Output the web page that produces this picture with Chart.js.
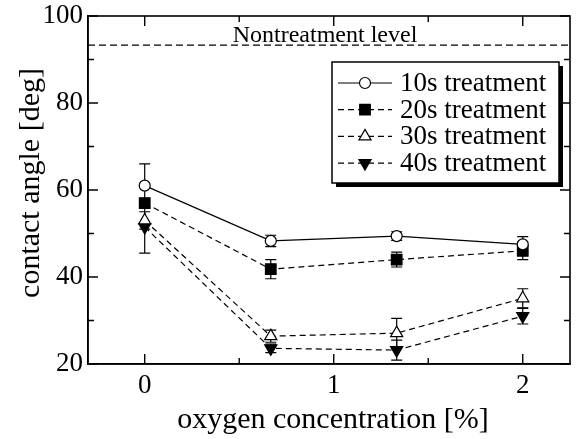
<!DOCTYPE html>
<html><head><meta charset="utf-8">
<script src="https://cdn.jsdelivr.net/npm/chart.js@4/dist/chart.umd.min.js"></script>
<style>html,body{margin:0;padding:0;background:#fff;}canvas{display:block;}</style>
</head><body>
<canvas id="c" width="581" height="439"></canvas>
<script>
// ---- data ----
const oxygen = [0, 0.667, 1.333, 2];
const t10 = [61.0, 48.3, 49.4, 47.5];
const t10Err = [5.0, 1.3, 1.0, 1.8];
const t20 = [57.0, 41.8, 44.0, 46.0];
const t20Err = [1.0, 2.2, 1.7, 2.0];
const t30 = [53.0, 26.4, 27.1, 35.1];
const t30Err = [2.0, 1.4, 3.4, 2.2];
const t40 = [51.5, 23.6, 23.2, 31.0];
const t40Err = [6.0, 1.0, 2.3, 1.8];
const seriesLabels = ['10s treatment', '20s treatment', '30s treatment', '40s treatment'];
const xTicks = [0, 1, 2];
const xMinorTicks = [0.5, 1.5];
const yTicks = [20, 40, 60, 80, 100];
const yMinorTicks = [30, 50, 70, 90];
const nontreatmentLevel = 93.3;
const nontreatmentLabel = 'Nontreatment level';
const xTitle = 'oxygen concentration [%]';
const yTitle = 'contact angle [deg]';

const FONT = "'Liberation Serif', 'Times New Roman', serif";
const allY = [t10, t20, t30, t40];
const allErr = [t10Err, t20Err, t30Err, t40Err];
const styles = [
  {pointStyle: 'circle', fill: '#fff', radius: 5.5, rot: 0, dash: []},
  {pointStyle: 'rect', fill: '#000', radius: 7.5, rot: 0, dash: [6, 4]},
  {pointStyle: 'triangle', fill: '#fff', radius: 7, rot: 0, dash: [6, 4]},
  {pointStyle: 'triangle', fill: '#000', radius: 7, rot: 180, dash: [6, 4]}
];

const datasets = allY.map((ys, i) => ({
  label: seriesLabels[i],
  data: oxygen.map((x, j) => ({x: x, y: ys[j]})),
  borderColor: '#000',
  borderWidth: 1.2,
  borderDash: styles[i].dash,
  pointStyle: styles[i].pointStyle,
  pointRadius: styles[i].radius,
  pointRotation: styles[i].rot,
  pointBackgroundColor: styles[i].fill,
  pointBorderColor: '#000',
  pointBorderWidth: 1.2,
  fill: false,
  tension: 0
}));

function drawMarker(ctx, style, x, y, r, rotDeg, fill) {
  ctx.save();
  ctx.beginPath();
  const rad = rotDeg * Math.PI / 180;
  if (style === 'circle') {
    ctx.arc(x, y, r, 0, Math.PI * 2);
  } else if (style === 'rect') {
    const s = Math.SQRT1_2 * r;
    ctx.rect(x - s, y - s, 2 * s, 2 * s);
  } else if (style === 'triangle') {
    let a = rad;
    ctx.moveTo(x + Math.sin(a) * r, y - Math.cos(a) * r);
    a += 2 * Math.PI / 3;
    ctx.lineTo(x + Math.sin(a) * r, y - Math.cos(a) * r);
    a += 2 * Math.PI / 3;
    ctx.lineTo(x + Math.sin(a) * r, y - Math.cos(a) * r);
    ctx.closePath();
  }
  ctx.fillStyle = fill;
  ctx.fill();
  ctx.lineWidth = 1.2;
  ctx.strokeStyle = '#000';
  ctx.stroke();
  ctx.restore();
}

const underlay = {
  id: 'underlay',
  beforeDatasetsDraw(chart) {
    const {ctx, chartArea: ca, scales: {x, y}} = chart;
    ctx.save();
    // nontreatment level
    const yl = y.getPixelForValue(nontreatmentLevel);
    ctx.strokeStyle = '#000';
    ctx.lineWidth = 1.2;
    ctx.setLineDash([7, 4]);
    ctx.beginPath();
    ctx.moveTo(ca.left, yl);
    ctx.lineTo(ca.right, yl);
    ctx.stroke();
    ctx.setLineDash([]);
    ctx.font = '24px ' + FONT;
    ctx.fillStyle = '#000';
    ctx.textAlign = 'center';
    ctx.textBaseline = 'alphabetic';
    ctx.fillText(nontreatmentLabel, (ca.left + ca.right) / 2 - 4, yl - 3);
    // error bars
    ctx.lineWidth = 1.2;
    allY.forEach((ys, i) => {
      ys.forEach((v, j) => {
        const px = x.getPixelForValue(oxygen[j]);
        const top = y.getPixelForValue(v + allErr[i][j]);
        const bot = y.getPixelForValue(v - allErr[i][j]);
        ctx.beginPath();
        ctx.moveTo(px, top); ctx.lineTo(px, bot);
        ctx.moveTo(px - 5.5, top); ctx.lineTo(px + 5.5, top);
        ctx.moveTo(px - 5.5, bot); ctx.lineTo(px + 5.5, bot);
        ctx.stroke();
      });
    });
    ctx.restore();
  }
};

const overlay = {
  id: 'overlay',
  afterDraw(chart) {
    const {ctx, chartArea: ca, scales: {x, y}} = chart;
    ctx.save();
    ctx.strokeStyle = '#000';
    ctx.lineWidth = 1.6;
    ctx.strokeRect(ca.left, ca.top, ca.right - ca.left, ca.bottom - ca.top);
    ctx.lineWidth = 1.4;
    ctx.beginPath();
    const tick = (vals, len, horiz) => {
      vals.forEach(v => {
        if (horiz) {
          const px = x.getPixelForValue(v);
          ctx.moveTo(px, ca.bottom); ctx.lineTo(px, ca.bottom - len);
          ctx.moveTo(px, ca.top); ctx.lineTo(px, ca.top + len);
        } else {
          const py = y.getPixelForValue(v);
          ctx.moveTo(ca.left, py); ctx.lineTo(ca.left + len, py);
          ctx.moveTo(ca.right, py); ctx.lineTo(ca.right - len, py);
        }
      });
    };
    tick(xTicks, 10, true);
    tick(xMinorTicks, 6, true);
    tick(yTicks, 10, false);
    tick(yMinorTicks, 6, false);
    ctx.stroke();

    // axis titles
    ctx.fillStyle = '#000';
    ctx.font = '30px ' + FONT;
    ctx.textAlign = 'center';
    ctx.textBaseline = 'middle';
    ctx.fillText(xTitle, (ca.left + ca.right) / 2 + 4, 420);
    ctx.save();
    ctx.translate(31, (ca.top + ca.bottom) / 2 - 7);
    ctx.rotate(-Math.PI / 2);
    ctx.fillText(yTitle, 0, 0);
    ctx.restore();

    // legend
    const bx = 332, by = 62, bw = 227, bh = 121;
    ctx.fillStyle = '#000';
    ctx.fillRect(bx + 4, by + 4, bw, bh);
    ctx.fillStyle = '#fff';
    ctx.fillRect(bx, by, bw, bh);
    ctx.lineWidth = 1.5;
    ctx.strokeRect(bx, by, bw, bh);
    ctx.font = '27px ' + FONT;
    ctx.textAlign = 'left';
    ctx.textBaseline = 'middle';
    seriesLabels.forEach((lab, i) => {
      const ry = by + 21 + i * 26.7;
      ctx.lineWidth = 1.2;
      ctx.setLineDash(styles[i].dash);
      ctx.beginPath();
      ctx.moveTo(bx + 6, ry); ctx.lineTo(bx + 60, ry);
      ctx.stroke();
      ctx.setLineDash([]);
      drawMarker(ctx, styles[i].pointStyle, bx + 33, ry, styles[i].radius, styles[i].rot, styles[i].fill);
      ctx.fillStyle = '#000';
      ctx.fillText(lab, bx + 68, ry + 1);
    });
    ctx.restore();
  }
};

new Chart(document.getElementById('c'), {
  type: 'line',
  data: {datasets: datasets},
  options: {
    responsive: false,
    animation: false,
    devicePixelRatio: 1,
    layout: {padding: {left: 0, top: 16, right: 11, bottom: 0}},
    plugins: {legend: {display: false}, tooltip: {enabled: false}},
    scales: {
      x: {
        type: 'linear', min: -0.3, max: 2.25,
        afterBuildTicks: s => { s.ticks = xTicks.map(v => ({value: v})); },
        afterFit: s => { s.height = 75; s.paddingLeft = 0; s.paddingRight = 0; },
        grid: {display: false, drawTicks: false},
        border: {display: true, color: '#000', width: 1.5},
        ticks: {color: '#000', font: {family: FONT, size: 27}, padding: 6, callback: v => String(v)},
        title: {display: false, text: xTitle}
      },
      y: {
        min: 20, max: 100,
        afterBuildTicks: s => { s.ticks = yTicks.map(v => ({value: v})); },
        afterFit: s => { s.width = 88; s.paddingTop = 0; s.paddingBottom = 0; },
        grid: {display: false, drawTicks: false},
        border: {display: true, color: '#000', width: 1.5},
        ticks: {color: '#000', font: {family: FONT, size: 27}, padding: 5, callback: v => String(v)},
        title: {display: false, text: yTitle}
      }
    }
  },
  plugins: [underlay, overlay]
});
</script>
</body></html>
